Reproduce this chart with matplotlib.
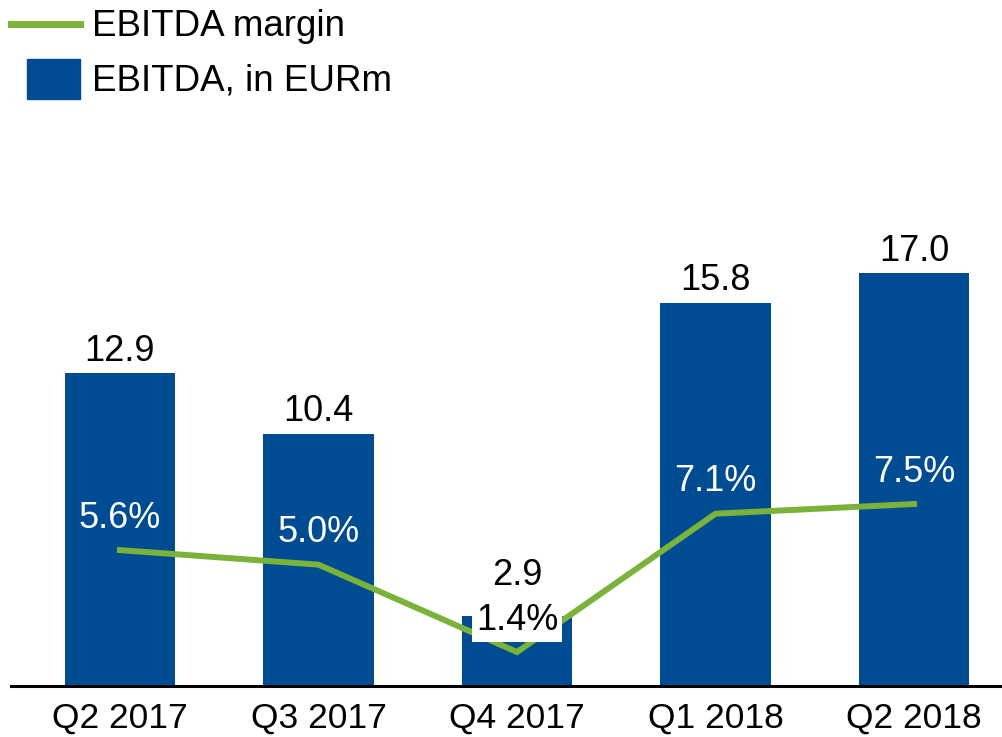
import numpy as np
import matplotlib.pyplot as plt
from matplotlib.lines import Line2D
from matplotlib.patches import Rectangle

plt.rcParams['font.family'] = ['Liberation Sans', 'DejaVu Sans']

# ------------------------------------------------------------
# Datos
# ------------------------------------------------------------
quarters = ['Q2 2017', 'Q3 2017', 'Q4 2017', 'Q1 2018', 'Q2 2018']
ebitda = [12.9, 10.4, 2.9, 15.8, 17.0]        # EURm
margin = [5.6, 5.0, 1.4, 7.1, 7.5]            # %

BLUE = '#004C93'
GREEN = '#7AB23A'

fig = plt.figure(figsize=(10.03, 7.37), dpi=100)
W, H = 1003, 737
ax = fig.add_axes([11 / W, (H - 686) / H, 992 / W, 546 / H])

x = np.arange(len(quarters))
ax.bar(x, ebitda, width=0.555, color=BLUE, zorder=1)

# la línea de margen comparte la misma escala vertical
ax.plot(x, margin, color=GREEN, linewidth=4.3, zorder=2, solid_joinstyle='miter')

for xi, v, m in zip(x, ebitda, margin):
    # si la barra es baja, la etiqueta sube por encima del recuadro del margen
    dy = 16 if v < m + 3 else 3
    ax.annotate(f'{v:.1f}', (xi, v), xytext=(0, dy), textcoords='offset points',
                ha='center', va='bottom', fontsize=26, color='black', zorder=4)

for xi, m in zip(x, margin):
    if m < 2:
        ax.annotate(f'{m:.1f}%', (xi, m), xytext=(0, 23), textcoords='offset points',
                    ha='center', va='center', fontsize=26, color='black', zorder=3,
                    bbox=dict(boxstyle='square,pad=0.12', facecolor='white', edgecolor='none'))
    else:
        ax.annotate(f'{m:.1f}%', (xi, m), xytext=(0, 23), textcoords='offset points',
                    ha='center', va='center', fontsize=26, color='white', zorder=3)

ax.set_xlim(-0.549, 4.448)
ax.set_ylim(0, 22.5)
ax.set_xticks(x)
ax.set_xticklabels(quarters, fontsize=25.5)
ax.tick_params(axis='x', length=0, pad=11)
ax.set_yticks([])
for s in ['top', 'right', 'left']:
    ax.spines[s].set_visible(False)
ax.spines['bottom'].set_linewidth(2.2)
ax.spines['bottom'].set_color('black')

# ------------------------------------------------------------
# Leyenda manual
# ------------------------------------------------------------
fig.add_artist(Line2D([11 / W, 80 / W], [1 - 24 / H, 1 - 24 / H], color=GREEN,
                      linewidth=5, transform=fig.transFigure))
fig.add_artist(Rectangle((27 / W, 1 - 99 / H), 53 / W, 40 / H, color=BLUE,
                         transform=fig.transFigure))
fig.text(92 / W, 1 - 26 / H, 'EBITDA margin', fontsize=26.5, va='center', ha='left')
fig.text(92 / W, 1 - 81 / H, 'EBITDA, in EURm', fontsize=26.5, va='center', ha='left')

fig.savefig('out.png', dpi=100)
